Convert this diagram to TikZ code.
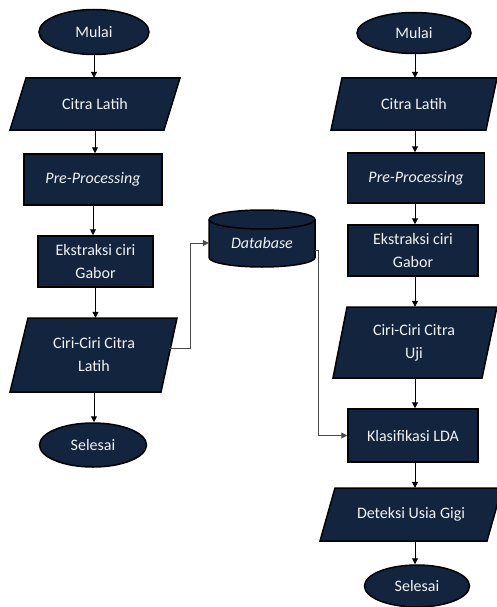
\documentclass[tikz,border=0pt]{standalone}
\usepackage{fontspec}
\setmainfont{Carlito}
\usetikzlibrary{arrows.meta,shapes.geometric}
\definecolor{navy}{HTML}{12243E}
\definecolor{txt}{HTML}{F2F2F2}
\definecolor{conn}{HTML}{4A4A4A}
\begin{document}
\begin{tikzpicture}[x=1pt,y=-1pt,
  box/.style={draw=black, line width=1.5pt, fill=navy, text=txt, font=\fontsize{16}{23}\selectfont, align=center, inner sep=0pt},
  term/.style={box, ellipse},
  proc/.style={box, rectangle},
  parafill/.style={draw=black, line width=1.5pt, fill=navy},
  lbl/.style={rectangle, text=txt, font=\fontsize{16}{23}\selectfont, align=center, inner sep=0pt},
  arr/.style={-{Triangle[length=6pt,width=6pt]}, line width=1pt, black},
  arrg/.style={-{Triangle[length=6pt,width=6pt]}, line width=1pt, conn},
]
\useasboundingbox (0,0) rectangle (496,607);
\fill[white] (0,0) rectangle (496,607);

% ---------- left column ----------
\node[term, minimum width=110pt, minimum height=45pt] (mulaiL) at (94,32) {Mulai};
\draw[parafill] (26,78) -- (180,78) -- (164,130) -- (10,130) -- cycle;
\node[lbl, minimum width=154pt, minimum height=52pt] (citraL) at (95,104) {Citra Latih};
\node[proc, minimum width=138pt, minimum height=51pt] (preL) at (93,179.5) {\textit{Pre-Processing}};
\node[proc, minimum width=115pt, minimum height=51pt] (ekstL) at (95.5,261.5) {Ekstraksi ciri\\Gabor};
\draw[parafill] (28,318) -- (177,318) -- (161,392) -- (10,392) -- cycle;
\node[lbl, minimum width=150pt, minimum height=74pt] (ciriL) at (94,355) {Ciri-Ciri Citra\\Latih};
\node[term, minimum width=107pt, minimum height=44pt] (selL) at (93,445) {Selesai};

\draw[arr] (mulaiL.south) -- (mulaiL.south |- citraL.north);
\draw[arr] (citraL.south) -- (citraL.south |- preL.north);
\draw[arr] (preL.south) -- (preL.south |- ekstL.north);
\draw[arr] (ekstL.south) -- (ekstL.south |- ciriL.north);
\draw[arr] (ciriL.south) -- (ciriL.south |- selL.north);

% ---------- database ----------
\draw[parafill] (209,219.5) -- (209,257.5)
  arc[start angle=180, end angle=360, x radius=53pt, y radius=9.5pt]
  -- (315,219.5)
  arc[start angle=0, end angle=180, x radius=53pt, y radius=9.5pt] -- cycle;
\draw[black, line width=1.5pt] (209,219.5) arc[start angle=180, end angle=360, x radius=53pt, y radius=9.5pt];
\node[lbl, minimum width=106pt, minimum height=48pt] (db) at (262,243.5) {\textit{Database}};

% ---------- right column ----------
\node[term, minimum width=114pt, minimum height=41pt] (mulaiR) at (414,33) {Mulai};
\draw[parafill] (342,78) -- (497,78) -- (486,130) -- (331,130) -- cycle;
\node[lbl, minimum width=154pt, minimum height=52pt] (citraR) at (414,104) {Citra Latih};
\node[proc, minimum width=137pt, minimum height=50pt] (preR) at (416,178) {\textit{Pre-Processing}};
\node[proc, minimum width=130pt, minimum height=51pt] (ekstR) at (413,250.5) {Ekstraksi ciri\\Gabor};
\draw[parafill] (347,307) -- (497,307) -- (482,378) -- (333,378) -- cycle;
\node[lbl, minimum width=149pt, minimum height=71pt] (ciriR) at (414,342.5) {Ciri-Ciri Citra\\Uji};
\node[proc, minimum width=130pt, minimum height=53pt] (klasR) at (413,435.5) {Klasifikasi LDA};
\draw[parafill] (335,488) -- (502,488) -- (487,541) -- (320,541) -- cycle;
\node[lbl, minimum width=167pt, minimum height=53pt] (detR) at (411,514.5) {Deteksi Usia Gigi};
\node[term, minimum width=105pt, minimum height=42pt] (selR) at (417,586) {Selesai};

\coordinate (xr) at (415,0);
\draw[arr] (mulaiR.south -| xr) -- (xr |- citraR.north);
\draw[arr] (citraR.south -| xr) -- (xr |- preR.north);
\draw[arr] (preR.south -| xr) -- (xr |- ekstR.north);
\draw[arr] (ekstR.south -| xr) -- (xr |- ciriR.north);
\draw[arr] (ciriR.south -| xr) -- (xr |- klasR.north);
\draw[arr] (klasR.south -| xr) -- (xr |- detR.north);
\draw[arr] (detR.south -| xr) -- (xr |- selR.north);

% ---------- database connectors ----------
\coordinate (j1) at (190,243);
\draw[arrg] ([yshift=7pt]ciriL.east) -| (j1) -- (j1 -| db.west);
\coordinate (j2) at (318,250);
\draw[arrg] (db.east |- j2) -- (j2) |- (klasR.west);
\end{tikzpicture}
\end{document}
